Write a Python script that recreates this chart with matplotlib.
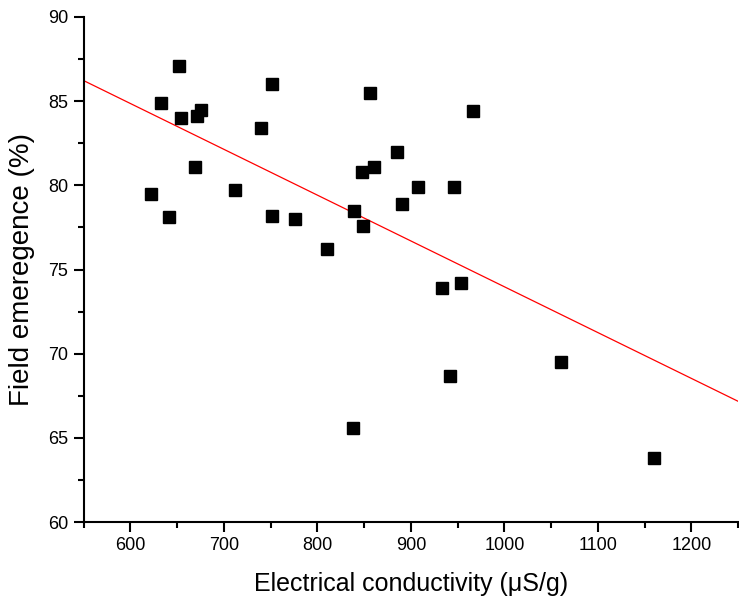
import matplotlib
matplotlib.use("Agg")
import matplotlib.pyplot as plt
import numpy as np
from matplotlib.ticker import MultipleLocator

plt.rcParams['font.family'] = ['Liberation Sans', 'DejaVu Sans']

# electrical conductivity (uS/g) and field emergence (%)
ec = [651.6, 632.8, 653.7, 671.6, 675.5, 752.0, 739.9, 668.7, 621.7, 641.7,
      711.8, 752.0, 775.9, 856.7, 966.3, 884.8, 848.0, 860.3, 907.1, 946.3,
      890.8, 839.6, 849.2, 810.4, 933.6, 953.2, 941.5, 838.5, 1060.0, 1159.6]
emergence = [87.1, 84.9, 84.0, 84.1, 84.5, 86.0, 83.4, 81.1, 79.5, 78.1,
             79.7, 78.2, 78.0, 85.5, 84.4, 82.0, 80.8, 81.1, 79.9, 79.9,
             78.9, 78.5, 77.6, 76.2, 73.9, 74.2, 68.7, 65.6, 69.5, 63.8]

xlim = (550, 1250)
ylim = (60, 90)

fig = plt.figure(figsize=(7.39, 6.05), dpi=100)
ax = fig.add_axes([0.113, 0.137, 0.886, 0.835])

# linear fit
slope, intercept = np.polyfit(ec, emergence, 1)
xs = np.array(xlim)
ax.plot(xs, intercept + slope * xs, color='red', lw=0.9, zorder=2)

ax.plot(ec, emergence, 's', color='black', markersize=8, zorder=3)

ax.set_xlim(*xlim)
ax.set_ylim(*ylim)
ax.xaxis.set_major_locator(MultipleLocator(100))
ax.xaxis.set_minor_locator(MultipleLocator(50))
ax.yaxis.set_major_locator(MultipleLocator(5))
ax.yaxis.set_minor_locator(MultipleLocator(2.5))

for s in ['top', 'right']:
    ax.spines[s].set_visible(False)
for s in ['left', 'bottom']:
    ax.spines[s].set_linewidth(1.5)

ax.tick_params(which='major', direction='out', length=7, width=1.5,
               labelsize=13, pad=4)
ax.tick_params(which='minor', direction='out', length=4, width=1.5)

ax.set_xlabel('Electrical conductivity (\u03bcS/g)', fontsize=18, labelpad=13)
ax.set_ylabel('Field emeregence (%)', fontsize=20, labelpad=9)

fig.savefig('out.png', dpi=100)
